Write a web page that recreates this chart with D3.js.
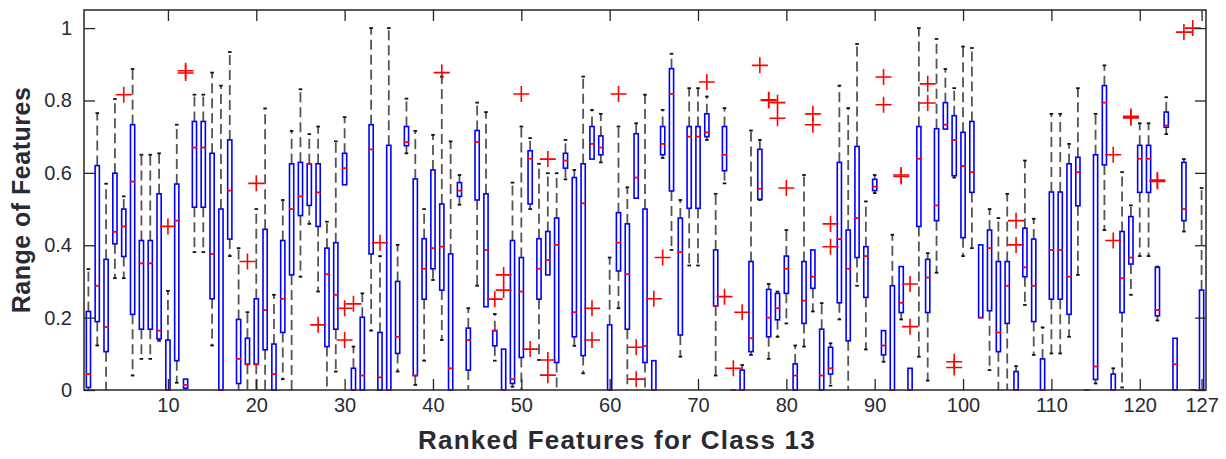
<!DOCTYPE html>
<html>
<head>
<meta charset="utf-8">
<script src="https://cdn.jsdelivr.net/npm/d3@7"></script>
<style>
  body { margin: 0; background: #fff; }
  svg { display: block; font-family: "Liberation Sans", Arial, sans-serif; }
</style>
</head>
<body>
<div id="chart"></div>
<script>
// box statistics per ranked feature (1..127)
const whiskerLow = [0,0.123,0,0.309,0.309,0.04,0.086,0.086,0.136,0,
  0.02,0,0.381,0.381,0.123,0,0.37,0,0,0,
  0,0,0.03,0,0.313,0.459,0.272,0,0.051,0.567,
  0,0,0.164,0,0,0.051,0.654,0.014,0.081,0.304,
  0.138,0,0.512,0,0.288,0.23,0.081,0,0.009,0,
  0.5,0.083,0.318,0,0.582,0.122,0.046,0.638,0.629,0,
  0.226,0,0.53,0,0,0.641,0.387,0.092,0.344,0.344,
  0.691,0.04,0.571,0,0,0.097,0.525,0.086,0.147,0.184,
  0,0.12,0.217,0,0.012,0.195,0,0.288,0.112,0.544,
  0.078,0,0.195,0,0.092,0.026,0.324,0.721,0.587,0.37,
  0.392,0.2,0.055,0,0,0,0.235,0.097,0,0.101,
  0.101,0.147,0.318,0,0.018,0.442,0,0.007,0.263,0.37,
  0.37,0.192,0.707,0,0.438,0,0];
const q1 = [0.007,0.189,0.106,0.404,0.369,0.209,0.168,0.168,0.141,0,
  0.081,0.005,0.505,0.505,0.252,0,0.417,0.018,0.071,0.071,
  0.111,0,0.159,0.318,0.482,0.51,0.452,0.12,0.168,0.567,
  0,0,0.376,0,0,0.101,0.675,0.04,0.251,0.335,
  0.276,0,0.535,0.055,0.525,0.23,0.122,0,0.018,0.09,
  0.514,0.251,0.318,0.076,0.613,0.147,0.095,0.638,0.65,0,
  0.329,0.168,0.53,0.076,0,0.65,0.55,0.152,0.502,0.502,
  0.7,0.232,0.606,0,0,0.106,0.527,0.147,0.194,0.267,
  0,0.184,0.281,0,0.044,0.241,0.136,0.366,0.256,0.551,
  0.097,0,0.214,0,0.452,0.214,0.468,0.721,0.592,0.421,
  0.546,0.2,0.219,0.106,0.184,0,0.313,0.189,0,0.251,
  0.251,0.209,0.509,0,0.029,0.622,0,0.214,0.348,0.546,
  0.546,0.205,0.726,0,0.468,0,0];
const median = [0.044,0.288,0.174,0.437,0.452,0.576,0.35,0.35,0.164,0,
  0.468,0.014,0.67,0.67,0.376,0,0.551,0.086,0.071,0.071,
  0.221,0.044,0.252,0.5,0.535,0.625,0.546,0.32,0.263,0.613,
  0,0.04,0.665,0.035,0,0.147,0.685,0.04,0.335,0.392,
  0.396,0.06,0.551,0.138,0.685,0.387,0.164,0,0.03,0.272,
  0.639,0.335,0.359,0.401,0.634,0.215,0.516,0.68,0.67,0,
  0.407,0.32,0.587,0.122,0,0.68,0.818,0.381,0.7,0.7,
  0.712,0.232,0.65,0,0,0.143,0.556,0.2,0.226,0.335,
  0.04,0.247,0.313,0.04,0.06,0.417,0.335,0.475,0.37,0.562,
  0.123,0,0.241,0,0.639,0.311,0.51,0.733,0.691,0.619,
  0.602,0.2,0.392,0.159,0.288,0,0.339,0.288,0,0.387,
  0.387,0.313,0.602,0,0.065,0.794,0,0.309,0.366,0.639,
  0.639,0.221,0.731,0.071,0.5,0,0];
const q3 = [0.217,0.62,0.361,0.599,0.5,0.733,0.413,0.413,0.542,0.138,
  0.569,0.03,0.742,0.742,0.654,0.5,0.691,0.195,0.143,0.252,
  0.444,0.127,0.413,0.625,0.629,0.625,0.625,0.392,0.407,0.654,
  0.06,0.201,0.733,0.159,0.676,0.3,0.728,0.583,0.418,0.608,
  0.514,0.376,0.573,0.171,0.717,0.542,0.164,0.113,0.413,0.366,
  0.661,0.418,0.438,0.475,0.654,0.587,0.625,0.728,0.702,0.18,
  0.49,0.459,0.708,0.5,0.081,0.728,0.888,0.475,0.728,0.728,
  0.763,0.387,0.728,0,0.055,0.355,0.665,0.278,0.267,0.37,
  0.072,0.355,0.387,0.168,0.118,0.629,0.442,0.673,0.396,0.582,
  0.164,0.288,0.341,0.06,0.728,0.361,0.722,0.794,0.758,0.712,
  0.742,0.401,0.442,0.355,0.355,0.051,0.447,0.417,0.086,0.547,
  0.547,0.625,0.643,0,0.65,0.841,0.044,0.438,0.479,0.676,
  0.676,0.339,0.768,0.143,0.629,0,0.276];
const whiskerHigh = [0.334,0.765,0.57,0.804,0.535,0.887,0.65,0.65,0.654,0.274,
  0.733,0.03,0.816,0.816,0.877,0.841,0.934,0.392,0.215,0.5,
  0.778,0.263,0.525,0.716,0.831,0.707,0.728,0.465,0.687,0.754,
  0.12,0.267,1.0,0.37,1.0,0.401,0.805,0.716,0.5,0.705,
  0.866,0.687,0.594,0.226,0.794,0.768,0.21,0.113,0.573,0.728,
  0.696,0.625,0.599,0.599,0.691,0.608,0.866,0.774,0.763,0.366,
  0.728,0.56,0.737,0.816,0.081,0.774,0.929,0.525,0.834,0.834,
  0.811,0.542,0.779,0,0.069,0.717,0.691,0.293,0.272,0.442,
  0.123,0.594,0.387,0.24,0.129,0.841,0.779,0.956,0.521,0.594,
  0.164,0.429,0.341,0.06,1.0,0.378,0.97,0.887,0.834,0.949,
  0.945,0.401,0.5,0.475,0.542,0.066,0.634,0.473,0.173,0.763,
  0.763,0.68,0.834,0,0.763,0.897,0.06,0.602,0.51,0.737,
  0.737,0.341,0.809,0.143,0.638,0,0.558];
// outliers as [feature, value]
const outliers = [[5,0.816],[10,0.452],[12,0.876],[12,0.882],[19,0.355],[20,0.571],
  [27,0.18],[30,0.226],[30,0.138],[31,0.238],[34,0.407],[41,0.877],[47,0.251],
  [48,0.318],[48,0.276],[50,0.818],[51,0.113],[53,0.638],[53,0.083],[53,0.041],
  [58,0.226],[58,0.138],[61,0.818],[63,0.118],[63,0.03],[65,0.252],[66,0.366],
  [71,0.851],[73,0.258],[74,0.06],[75,0.215],[77,0.897],[78,0.802],[78,0.8],
  [79,0.794],[79,0.751],[80,0.558],[83,0.763],[83,0.733],[85,0.459],[85,0.396],
  [91,0.865],[91,0.788],[93,0.59],[93,0.594],[94,0.293],[94,0.175],[96,0.846],
  [96,0.793],[99,0.078],[99,0.062],[106,0.468],[106,0.401],[117,0.65],[117,0.413],
  [119,0.756],[119,0.752],[122,0.576],[122,0.58],[125,0.989],[126,1.0]];
const xTicks = [10,20,30,40,50,60,70,80,90,100,110,120,127];
const yTicks = [0,0.2,0.4,0.6,0.8,1];

const width = 1226, height = 459;
const plotLeft = 84, plotRight = 1206, plotTop = 10, plotBottom = 390;
const ink = '#262626';

const svg = d3.select('#chart').append('svg')
  .attr('width', width)
  .attr('height', height);

const x = d3.scaleLinear().domain([0.5, whiskerLow.length + 0.5]).range([plotLeft, plotRight]);
const y = d3.scaleLinear().domain([0, 1.05]).range([plotBottom, plotTop]);

const boxes = median.map((m, i) => ({
  f: i + 1, lo: whiskerLow[i], q1: q1[i], med: m, q3: q3[i], hi: whiskerHigh[i]
}));

const boxW = 4.2;   // inner width of the box outline
const capW = 3.6;

const g = svg.append('g');

// whiskers (dashed)
g.selectAll('.wh-up').data(boxes.filter(d => d.hi > d.q3)).enter()
  .append('line')
  .attr('x1', d => x(d.f)).attr('x2', d => x(d.f))
  .attr('y1', d => y(d.q3)).attr('y2', d => y(d.hi))
  .attr('stroke', '#555').attr('stroke-width', 1.8)
  .attr('stroke-dasharray', '10,5');

g.selectAll('.wh-down').data(boxes.filter(d => d.lo < d.q1)).enter()
  .append('line')
  .attr('x1', d => x(d.f)).attr('x2', d => x(d.f))
  .attr('y1', d => y(d.q1)).attr('y2', d => y(d.lo))
  .attr('stroke', '#555').attr('stroke-width', 1.8)
  .attr('stroke-dasharray', '10,5');

// whisker caps
g.selectAll('.cap-up').data(boxes.filter(d => d.hi > d.q3)).enter()
  .append('line')
  .attr('x1', d => x(d.f) - capW / 2).attr('x2', d => x(d.f) + capW / 2)
  .attr('y1', d => y(d.hi)).attr('y2', d => y(d.hi))
  .attr('stroke', '#111').attr('stroke-width', 1.8);

g.selectAll('.cap-down').data(boxes.filter(d => d.lo < d.q1 && d.lo > 0)).enter()
  .append('line')
  .attr('x1', d => x(d.f) - capW / 2).attr('x2', d => x(d.f) + capW / 2)
  .attr('y1', d => y(d.lo)).attr('y2', d => y(d.lo))
  .attr('stroke', '#111').attr('stroke-width', 1.8);

// boxes
g.selectAll('.box').data(boxes.filter(d => d.q3 > d.q1)).enter()
  .append('rect')
  .attr('x', d => x(d.f) - boxW / 2)
  .attr('width', boxW)
  .attr('y', d => y(d.q3))
  .attr('height', d => y(d.q1) - y(d.q3))
  .attr('fill', 'none')
  .attr('stroke', '#0000ff')
  .attr('stroke-width', 1.6);

// medians
g.selectAll('.med').data(boxes).enter()
  .append('line')
  .attr('x1', d => x(d.f) - boxW / 2 - 0.5).attr('x2', d => x(d.f) + boxW / 2 + 0.5)
  .attr('y1', d => y(d.med)).attr('y2', d => y(d.med))
  .attr('stroke', '#ff0000').attr('stroke-width', 1.8);

// outliers as "+"
const ps = 8;
g.selectAll('.out').data(outliers).enter()
  .append('path')
  .attr('d', d => {
    const cx = x(d[0]), cy = y(d[1]);
    return `M${cx - ps},${cy}H${cx + ps}M${cx},${cy - ps}V${cy + ps}`;
  })
  .attr('fill', 'none')
  .attr('stroke', '#ff0000')
  .attr('stroke-width', 1.6);

// axes, ticks pointing inward on all four sides
const tickLen = 11;
function styleAxis(sel) {
  sel.select('.domain').remove();
  sel.selectAll('line').attr('stroke', ink).attr('stroke-width', 1.3);
  sel.selectAll('text')
    .attr('fill', '#2a2a35')
    .style('font-size', '20px');
}

svg.append('g')
  .attr('transform', `translate(${plotLeft},0)`)
  .call(d3.axisLeft(y).tickValues(yTicks).tickSize(-tickLen).tickPadding(12)
    .tickFormat(d3.format('~g')))
  .call(styleAxis);

svg.append('g')
  .attr('transform', `translate(${plotRight},0)`)
  .call(d3.axisRight(y).tickValues(yTicks).tickSize(-tickLen).tickFormat(''))
  .call(styleAxis);

svg.append('g')
  .attr('transform', `translate(0,${plotBottom})`)
  .call(d3.axisBottom(x).tickValues(xTicks).tickSize(-tickLen).tickPadding(8))
  .call(styleAxis);

svg.append('g')
  .attr('transform', `translate(0,${plotTop})`)
  .call(d3.axisTop(x).tickValues(xTicks).tickSize(-tickLen).tickFormat(''))
  .call(styleAxis);

// frame
svg.append('rect')
  .attr('x', plotLeft).attr('y', plotTop)
  .attr('width', plotRight - plotLeft).attr('height', plotBottom - plotTop)
  .attr('fill', 'none')
  .attr('stroke', ink)
  .attr('stroke-width', 1.5);

// axis titles
svg.append('text')
  .attr('x', 617).attr('y', 449)
  .attr('text-anchor', 'middle')
  .attr('fill', '#2a2a35')
  .style('font-size', '26px')
  .style('letter-spacing', '1.2px')
  .style('font-weight', 'bold')
  .text('Ranked Features for Class 13');

svg.append('text')
  .attr('transform', `translate(30,${(plotTop + plotBottom) / 2}) rotate(-90)`)
  .attr('text-anchor', 'middle')
  .attr('fill', '#2a2a35')
  .style('font-size', '25px')
  .style('letter-spacing', '0.5px')
  .style('font-weight', 'bold')
  .text('Range of Features');
</script>
</body>
</html>
